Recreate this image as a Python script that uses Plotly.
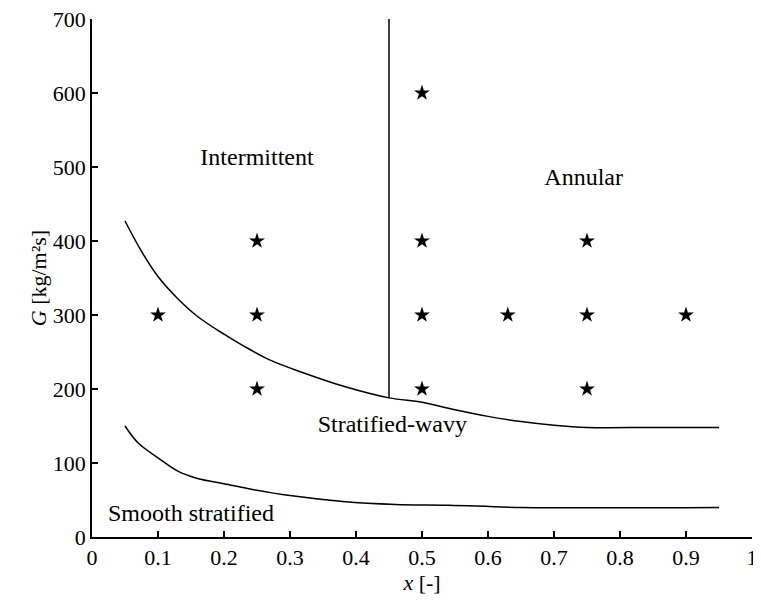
import plotly.graph_objects as go

# flow-pattern boundaries
upper_x = [0.05, 0.075, 0.1, 0.13, 0.16, 0.2, 0.23, 0.27, 0.32, 0.38, 0.45, 0.5, 0.55, 0.6, 0.65, 0.7, 0.75, 0.85, 0.95]
upper_g = [427, 386, 352, 322, 298, 274, 258, 239, 222, 204, 188, 182, 172, 163, 156, 151, 148, 148, 148]
lower_x = [0.05, 0.07, 0.1, 0.13, 0.16, 0.2, 0.245, 0.3, 0.38, 0.46, 0.54, 0.65, 0.95]
lower_g = [150, 127, 107, 89, 79, 72, 64, 56, 48, 44, 43, 40, 40]
divide_x = [0.45, 0.45]
divide_g = [188, 700]

# experimental points
pts_x = [0.5, 0.1, 0.25, 0.25, 0.25, 0.5, 0.5, 0.5, 0.63, 0.75, 0.75, 0.75, 0.9]
pts_g = [600, 300, 400, 300, 200, 400, 300, 200, 300, 400, 300, 200, 300]

labels = ["Intermittent", "Annular", "Stratified-wavy", "Smooth stratified"]
label_x = [0.25, 0.745, 0.455, 0.15]
label_g = [511, 484, 150, 30]

FONT = "Liberation Serif"

fig = go.Figure()
line = dict(color="black", width=1.5, shape="spline", smoothing=1)
fig.add_trace(go.Scatter(x=upper_x, y=upper_g, mode="lines", line=line))
fig.add_trace(go.Scatter(x=lower_x, y=lower_g, mode="lines", line=line))
fig.add_trace(go.Scatter(x=divide_x, y=divide_g, mode="lines",
                         line=dict(color="black", width=1.5)))
fig.add_trace(go.Scatter(x=pts_x, y=pts_g, mode="markers",
                         marker=dict(symbol="star", size=12, color="black")))
fig.add_trace(go.Scatter(x=label_x, y=label_g, mode="text", text=labels,
                         textfont=dict(family=FONT, size=24, color="black")))

axis = dict(showline=True, linecolor="black", linewidth=1.5, ticks="inside",
            ticklen=6, tickcolor="black", tickwidth=1.5, showgrid=False,
            zeroline=False, automargin=False, ticklabeloverflow="allow",
            tickfont=dict(family=FONT, size=22, color="black"))

fig.update_xaxes(range=[0, 1], dtick=0.1, tickformat="~g",
                 title=dict(text="<i>x</i> [-]", standoff=0,
                            font=dict(family=FONT, size=22, color="black")), **axis)
fig.update_yaxes(range=[0, 700], dtick=100,
                 title=dict(text="<i>G</i> [kg/m²s]", standoff=0,
                            font=dict(family=FONT, size=22, color="black")), **axis)

# page body adds an 8px margin, so the figure is sized to fit inside it
fig.update_layout(width=753, height=595, showlegend=False,
                  plot_bgcolor="white", paper_bgcolor="white",
                  margin=dict(l=84, r=9, t=11, b=66))

fig.write_html("out.html")
